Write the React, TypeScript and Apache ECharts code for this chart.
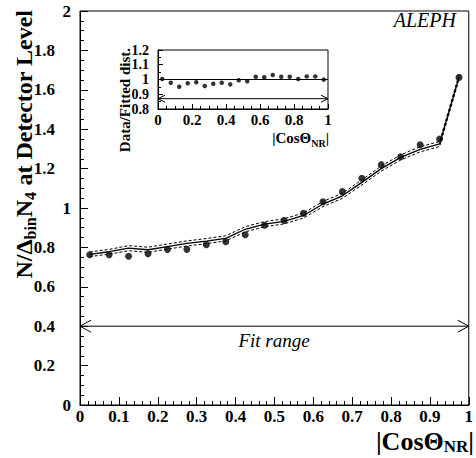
import React, { useEffect, useRef } from "react";
import * as echarts from "echarts";

// |cos Theta_NR| bin centres (20 bins of width 0.05)
const binCenters = [
  0.025, 0.075, 0.125, 0.175, 0.225, 0.275, 0.325, 0.375, 0.425, 0.475,
  0.525, 0.575, 0.625, 0.675, 0.725, 0.775, 0.825, 0.875, 0.925, 0.975,
];
// Measured N / (Delta_bin N_4) per bin
const dataValues = [
  0.763, 0.763, 0.755, 0.768, 0.79, 0.79, 0.814, 0.829, 0.864, 0.912,
  0.937, 0.973, 1.032, 1.083, 1.151, 1.22, 1.26, 1.321, 1.35, 1.663,
];
// Fitted distribution and its uncertainty
const fitValues = [
  0.765, 0.778, 0.796, 0.788, 0.804, 0.82, 0.832, 0.846, 0.892, 0.918,
  0.932, 0.962, 1.02, 1.062, 1.13, 1.2, 1.257, 1.298, 1.325, 1.665,
];
const fitErrors = [
  0.012, 0.012, 0.013, 0.013, 0.013, 0.013, 0.013, 0.013, 0.013, 0.013,
  0.013, 0.013, 0.013, 0.013, 0.013, 0.013, 0.013, 0.013, 0.013, 0.013,
];
// Data / fitted distribution ratio
const ratioValues = [
  1.003, 0.978, 0.951, 0.975, 0.981, 0.956, 0.971, 0.978, 0.967, 0.995,
  0.988, 1.019, 1.015, 1.031, 1.019, 1.019, 1.003, 1.021, 1.021, 0.999,
];
// Fit range arrows: [from, level, to]
const fitRangeArrow = [0, 0.4, 1];
const insetRangeArrow = [0, 0.87, 1];
// Reference line at ratio = 1
const unityLine = [
  [0, 1],
  [1, 1],
];

const serif = "'Liberation Serif', 'DejaVu Serif', 'Times New Roman', serif";

const fmt = (v: number) => String(Number(v.toFixed(2)));

const arrowRenderer =
  (head: number, half: number) => (_params: any, api: any) => {
    const y = api.value(1);
    const a = api.coord([api.value(0), y]);
    const b = api.coord([api.value(2), y]);
    const style = { stroke: "#000", lineWidth: 1, fill: "none" };
    return {
      type: "group",
      children: [
        { type: "line", shape: { x1: a[0], y1: a[1], x2: b[0], y2: b[1] }, style },
        {
          type: "polyline",
          shape: { points: [[a[0] + head, a[1] - half], [a[0], a[1]], [a[0] + head, a[1] + half]] },
          style,
        },
        {
          type: "polyline",
          shape: { points: [[b[0] - head, b[1] - half], [b[0], b[1]], [b[0] - head, b[1] + half]] },
          style,
        },
      ],
    };
  };

export default function App() {
  const ref = useRef<HTMLDivElement>(null);

  useEffect(() => {
    if (!ref.current) return;
    const chart = echarts.init(ref.current, undefined, { renderer: "svg" });

    const pairs = (ys: number[]) => binCenters.map((x, i) => [x, ys[i]]);
    const upper = binCenters.map((x, i) => [x, fitValues[i] + fitErrors[i]]);
    const lower = binCenters.map((x, i) => [x, fitValues[i] - fitErrors[i]]);

    const mainLabel = {
      color: "#000",
      fontFamily: serif,
      fontWeight: "bold" as const,
      fontSize: 17,
    };

    chart.setOption({
      animation: false,
      backgroundColor: "#fff",
      grid: [
        {
          left: 80,
          top: 11,
          width: 391,
          height: 394,
          show: true,
          borderColor: "#000",
          borderWidth: 1,
          backgroundColor: "transparent",
        },
        {
          left: 158,
          top: 50,
          width: 170,
          height: 59,
          show: true,
          borderColor: "#000",
          borderWidth: 1,
          backgroundColor: "#fff",
        },
      ],
      xAxis: [
        {
          type: "value",
          gridIndex: 0,
          min: 0,
          max: 1,
          interval: 0.1,
          splitLine: { show: false },
          axisLine: { lineStyle: { color: "#000", width: 1 } },
          axisTick: { inside: true, length: 8, lineStyle: { color: "#000" } },
          minorTick: { show: true, splitNumber: 5, length: 4, lineStyle: { color: "#000" } },
          axisLabel: { ...mainLabel, margin: 3, formatter: (v: number) => fmt(v) },
        },
        {
          type: "value",
          gridIndex: 1,
          min: 0,
          max: 1,
          interval: 0.2,
          splitLine: { show: false },
          axisLine: { lineStyle: { color: "#000", width: 1 } },
          axisTick: { inside: true, length: 5, lineStyle: { color: "#000" } },
          minorTick: { show: true, splitNumber: 4, length: 3, lineStyle: { color: "#000" } },
          axisLabel: {
            color: "#000",
            fontFamily: serif,
            fontWeight: "bold",
            fontSize: 15,
            margin: 3,
            formatter: (v: number) => fmt(v),
          },
        },
      ],
      yAxis: [
        {
          type: "value",
          gridIndex: 0,
          min: 0,
          max: 2,
          interval: 0.2,
          splitLine: { show: false },
          axisLine: { lineStyle: { color: "#000", width: 1 } },
          axisTick: { inside: true, length: 8, lineStyle: { color: "#000" } },
          minorTick: { show: true, splitNumber: 4, length: 4, lineStyle: { color: "#000" } },
          axisLabel: {
            margin: 9,
            formatter: (v: number) => {
              const s = fmt(v);
              return s.includes(".") ? `{d|${s}}` : `{i|${s}}`;
            },
            rich: {
              i: { ...mainLabel },
              d: { ...mainLabel, padding: [0, 16, 0, 0] },
            },
          },
        },
        {
          type: "value",
          gridIndex: 1,
          min: 0.8,
          max: 1.2,
          interval: 0.1,
          splitLine: { show: false },
          axisLine: { lineStyle: { color: "#000", width: 1 } },
          axisTick: { inside: true, length: 5, lineStyle: { color: "#000" } },
          minorTick: { show: true, splitNumber: 2, length: 3, lineStyle: { color: "#000" } },
          axisLabel: {
            color: "#000",
            fontFamily: serif,
            fontWeight: "bold",
            fontSize: 14,
            margin: 9,
            formatter: (v: number) => fmt(v),
          },
        },
      ],
      series: [
        {
          type: "line",
          xAxisIndex: 0,
          yAxisIndex: 0,
          data: upper,
          symbol: "none",
          lineStyle: { color: "#000", width: 1, type: [3, 2] },
        },
        {
          type: "line",
          xAxisIndex: 0,
          yAxisIndex: 0,
          data: lower,
          symbol: "none",
          lineStyle: { color: "#000", width: 1, type: [3, 2] },
        },
        {
          type: "line",
          xAxisIndex: 0,
          yAxisIndex: 0,
          data: pairs(fitValues),
          symbol: "none",
          lineStyle: { color: "#000", width: 1.3 },
        },
        {
          type: "scatter",
          xAxisIndex: 0,
          yAxisIndex: 0,
          data: pairs(dataValues),
          symbol: "circle",
          symbolSize: 7,
          itemStyle: { color: "#000" },
        },
        {
          type: "custom",
          xAxisIndex: 0,
          yAxisIndex: 0,
          data: [fitRangeArrow],
          encode: { x: [0, 2], y: 1 },
          renderItem: arrowRenderer(11, 6),
        },
        {
          type: "line",
          xAxisIndex: 1,
          yAxisIndex: 1,
          data: unityLine,
          symbol: "none",
          lineStyle: { color: "#000", width: 1 },
        },
        {
          type: "scatter",
          xAxisIndex: 1,
          yAxisIndex: 1,
          data: pairs(ratioValues),
          symbol: "circle",
          symbolSize: 4.5,
          itemStyle: { color: "#000" },
        },
        {
          type: "custom",
          xAxisIndex: 1,
          yAxisIndex: 1,
          data: [insetRangeArrow],
          encode: { x: [0, 2], y: 1 },
          renderItem: arrowRenderer(7, 3.5),
        },
      ],
      graphic: [
        {
          type: "text",
          x: 25,
          y: 10,
          rotation: Math.PI / 2,
          style: {
            text: "{a|N/Δ}{s|bin}{a|N}{s|4}{a| at Detector Level}",
            align: "right",
            verticalAlign: "middle",
            fill: "#000",
            rich: {
              a: {
                fontFamily: serif,
                fontWeight: "bold",
                fontSize: 24,
                lineHeight: 26,
                verticalAlign: "top",
                fill: "#000",
              },
              s: {
                fontFamily: serif,
                fontWeight: "bold",
                fontSize: 16,
                lineHeight: 16,
                padding: [10, 0, 0, 0],
                verticalAlign: "top",
                fill: "#000",
              },
            },
          },
        },
        {
          type: "text",
          x: 474,
          y: 428,
          style: {
            text: "{a||CosΘ}{s|NR}{a||}",
            align: "right",
            verticalAlign: "top",
            fill: "#000",
            rich: {
              a: {
                fontFamily: serif,
                fontWeight: "bold",
                fontSize: 26,
                lineHeight: 28,
                verticalAlign: "top",
                fill: "#000",
              },
              s: {
                fontFamily: serif,
                fontWeight: "bold",
                fontSize: 17,
                lineHeight: 17,
                padding: [10, 0, 0, 0],
                verticalAlign: "top",
                fill: "#000",
              },
            },
          },
        },
        {
          type: "text",
          x: 329,
          y: 130,
          z: 10,
          style: {
            text: "{a||CosΘ}{s|NR}{a||}",
            align: "right",
            verticalAlign: "top",
            fill: "#000",
            rich: {
              a: {
                fontFamily: serif,
                fontWeight: "bold",
                fontSize: 15,
                lineHeight: 17,
                verticalAlign: "top",
                fill: "#000",
              },
              s: {
                fontFamily: serif,
                fontWeight: "bold",
                fontSize: 10,
                lineHeight: 10,
                padding: [8, 0, 0, 0],
                verticalAlign: "top",
                fill: "#000",
              },
            },
          },
        },
        {
          type: "text",
          x: 125,
          y: 48,
          rotation: Math.PI / 2,
          z: 10,
          style: {
            text: "Data/Fitted dist.",
            align: "right",
            verticalAlign: "middle",
            fill: "#000",
            font: `bold 15px ${serif}`,
          },
        },
        {
          type: "text",
          x: 456,
          y: 20,
          style: {
            text: "ALEPH",
            align: "right",
            verticalAlign: "middle",
            fill: "#000",
            font: `italic 20px ${serif}`,
          },
        },
        {
          type: "text",
          x: 274,
          y: 340,
          style: {
            text: "Fit range",
            align: "center",
            verticalAlign: "middle",
            fill: "#000",
            font: `italic 19px ${serif}`,
          },
        },
      ],
    });

    return () => chart.dispose();
  }, []);

  return (
    <div
      ref={ref}
      style={{ position: "fixed", left: 0, top: 0, width: 476, height: 458, background: "#fff" }}
    />
  );
}
